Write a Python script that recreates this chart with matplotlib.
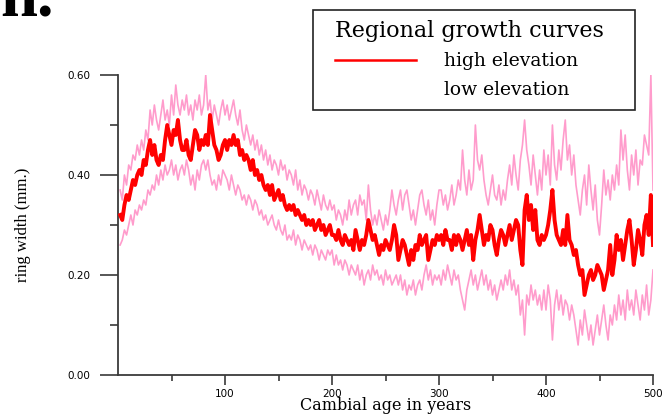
import numpy as np
import matplotlib
matplotlib.use("Agg")
import matplotlib.pyplot as plt
from matplotlib.lines import Line2D
from matplotlib.patches import Rectangle
from matplotlib.ticker import FixedLocator

# Cambial age (years), sampled every second year
age = np.arange(2, 501, 2)

# Regional growth curve, high elevation sites (ring width, mm)
high_elev = [
    0.32, 0.31, 0.34, 0.36, 0.35, 0.37, 0.39, 0.38, 0.40, 0.41,
    0.40, 0.43, 0.42, 0.45, 0.47, 0.44, 0.46, 0.43, 0.42, 0.44,
    0.43, 0.47, 0.50, 0.48, 0.46, 0.49, 0.48, 0.51, 0.47, 0.45,
    0.45, 0.47, 0.44, 0.43, 0.46, 0.49, 0.48, 0.45, 0.47, 0.46,
    0.48, 0.46, 0.52, 0.49, 0.46, 0.45, 0.43, 0.44, 0.46, 0.47,
    0.45, 0.47, 0.46, 0.48, 0.46, 0.47, 0.44, 0.45, 0.43, 0.44,
    0.43, 0.41, 0.43, 0.40, 0.41, 0.39, 0.40, 0.38, 0.37, 0.38,
    0.36, 0.38, 0.35, 0.36, 0.37, 0.35, 0.36, 0.34, 0.33, 0.34,
    0.33, 0.34, 0.32, 0.33, 0.32, 0.31, 0.32, 0.30, 0.31, 0.30,
    0.31, 0.29, 0.30, 0.31, 0.29, 0.30, 0.28, 0.29, 0.30, 0.28,
    0.28, 0.27, 0.29, 0.27, 0.26, 0.28, 0.27, 0.26, 0.27, 0.25,
    0.29, 0.27, 0.25, 0.27, 0.26, 0.28, 0.31, 0.29, 0.27, 0.28,
    0.26, 0.24, 0.26, 0.25, 0.27, 0.26, 0.25, 0.27, 0.30, 0.28,
    0.23, 0.25, 0.27, 0.26, 0.24, 0.22, 0.25, 0.23, 0.26, 0.25,
    0.28, 0.26, 0.27, 0.28, 0.23, 0.25, 0.27, 0.26, 0.28, 0.27,
    0.28, 0.26, 0.29, 0.27, 0.27, 0.25, 0.28, 0.26, 0.28, 0.27,
    0.25, 0.27, 0.29, 0.26, 0.28, 0.23, 0.27, 0.29, 0.32, 0.29,
    0.26, 0.28, 0.27, 0.30, 0.29, 0.26, 0.24, 0.27, 0.29, 0.28,
    0.26, 0.28, 0.30, 0.27, 0.29, 0.31, 0.30, 0.25, 0.22, 0.33,
    0.36, 0.31, 0.34, 0.29, 0.33, 0.27, 0.26, 0.28, 0.27, 0.28,
    0.30, 0.33, 0.37, 0.31, 0.28, 0.27, 0.26, 0.29, 0.26, 0.32,
    0.27, 0.26, 0.24, 0.25, 0.22, 0.20, 0.21, 0.16, 0.18, 0.20,
    0.21, 0.19, 0.20, 0.22, 0.21, 0.20, 0.17, 0.19, 0.21, 0.26,
    0.20, 0.23, 0.28, 0.25, 0.27, 0.23, 0.26, 0.29, 0.31, 0.27,
    0.22, 0.25, 0.29, 0.27, 0.24, 0.30, 0.32, 0.28, 0.36, 0.26,
]

# Low elevation sites: upper and lower curves (ring width, mm)
low_elev_upper = [
    0.37, 0.35, 0.40, 0.38, 0.42, 0.41, 0.44, 0.43, 0.46, 0.44,
    0.47, 0.45, 0.49, 0.47, 0.53, 0.50, 0.54, 0.51, 0.49, 0.52,
    0.55, 0.51, 0.53, 0.50, 0.56, 0.52, 0.58, 0.54, 0.52, 0.55,
    0.53, 0.56, 0.52, 0.54, 0.51, 0.55, 0.53, 0.56, 0.52, 0.54,
    0.60, 0.53, 0.55, 0.51, 0.54, 0.52, 0.50, 0.53, 0.55, 0.52,
    0.54, 0.51, 0.53, 0.55, 0.52, 0.50, 0.53, 0.49, 0.47, 0.50,
    0.48, 0.46, 0.48, 0.45, 0.47, 0.44, 0.46, 0.43, 0.45, 0.42,
    0.44, 0.41, 0.43, 0.42, 0.40, 0.43, 0.41, 0.42, 0.39, 0.41,
    0.40, 0.38, 0.41, 0.37, 0.39, 0.36, 0.38, 0.37, 0.35, 0.37,
    0.36, 0.34, 0.37, 0.35, 0.33, 0.36, 0.34, 0.33, 0.35, 0.33,
    0.34, 0.31, 0.33, 0.32, 0.30, 0.33, 0.31, 0.35, 0.32, 0.34,
    0.35, 0.32, 0.36, 0.34, 0.35, 0.31, 0.38, 0.33, 0.30, 0.32,
    0.30, 0.33, 0.31, 0.29, 0.32, 0.30, 0.33, 0.37, 0.34, 0.32,
    0.35, 0.37, 0.33, 0.36, 0.37, 0.34, 0.31, 0.33, 0.30, 0.33,
    0.36, 0.37, 0.34, 0.32, 0.35, 0.31, 0.33, 0.30, 0.34, 0.37,
    0.37, 0.34, 0.36, 0.33, 0.35, 0.38, 0.34, 0.36, 0.39, 0.37,
    0.45, 0.39, 0.36, 0.41, 0.37, 0.39, 0.50, 0.43, 0.41, 0.44,
    0.39, 0.36, 0.34, 0.37, 0.40, 0.36, 0.35, 0.38, 0.34, 0.37,
    0.35, 0.39, 0.42, 0.38, 0.44, 0.40, 0.37, 0.43, 0.46, 0.51,
    0.45, 0.42, 0.38, 0.44, 0.40, 0.36, 0.41, 0.37, 0.45, 0.40,
    0.44, 0.38, 0.50, 0.42, 0.39, 0.45, 0.41, 0.47, 0.51, 0.43,
    0.46, 0.40, 0.44, 0.38, 0.35, 0.32, 0.37, 0.40, 0.34, 0.42,
    0.37, 0.33, 0.38, 0.31, 0.28, 0.34, 0.41, 0.36, 0.39, 0.35,
    0.40, 0.37, 0.42, 0.38, 0.49, 0.43, 0.48, 0.41, 0.37, 0.44,
    0.40, 0.45, 0.38, 0.43, 0.42, 0.48, 0.46, 0.44, 0.60, 0.37,
]

low_elev_lower = [
    0.26, 0.27, 0.29, 0.28, 0.30, 0.32, 0.30, 0.33, 0.32, 0.34,
    0.33, 0.35, 0.34, 0.37, 0.36, 0.38, 0.37, 0.40, 0.38, 0.41,
    0.39, 0.42, 0.40, 0.41, 0.43, 0.40, 0.42, 0.39, 0.41, 0.42,
    0.40, 0.43, 0.41, 0.38, 0.40, 0.37, 0.41, 0.39, 0.42, 0.43,
    0.41, 0.43, 0.40, 0.38, 0.39, 0.37, 0.40, 0.38, 0.41, 0.40,
    0.39, 0.37, 0.40, 0.38, 0.36, 0.38, 0.37, 0.35, 0.36, 0.34,
    0.36, 0.35, 0.33, 0.35, 0.34, 0.32, 0.33, 0.31, 0.32, 0.30,
    0.31, 0.32, 0.30, 0.29, 0.31, 0.29, 0.28, 0.30, 0.27, 0.28,
    0.27, 0.29, 0.26, 0.28, 0.27, 0.25, 0.27, 0.26, 0.25, 0.26,
    0.24, 0.26, 0.25, 0.23, 0.25, 0.24, 0.23, 0.25, 0.24, 0.25,
    0.22, 0.24, 0.22, 0.23, 0.21, 0.23, 0.22, 0.20, 0.22, 0.21,
    0.20, 0.22, 0.19, 0.21, 0.18, 0.20, 0.21, 0.19, 0.22, 0.20,
    0.21, 0.19, 0.20, 0.18, 0.21, 0.19, 0.20, 0.18, 0.19, 0.20,
    0.18, 0.20, 0.17, 0.19, 0.16, 0.18, 0.17, 0.19, 0.16, 0.18,
    0.19, 0.17, 0.20, 0.22, 0.19, 0.21, 0.18, 0.20, 0.19, 0.20,
    0.18, 0.21, 0.19, 0.22, 0.20, 0.18, 0.21, 0.19, 0.20, 0.17,
    0.15, 0.13, 0.17, 0.19, 0.21, 0.18, 0.20, 0.17, 0.19, 0.21,
    0.18, 0.20, 0.17, 0.19, 0.16, 0.18, 0.15, 0.17, 0.19, 0.17,
    0.20, 0.18, 0.21, 0.17, 0.19, 0.16, 0.18, 0.12, 0.15, 0.08,
    0.16, 0.14, 0.18, 0.15, 0.17, 0.14, 0.16, 0.13, 0.17, 0.13,
    0.18, 0.15, 0.07, 0.14, 0.17, 0.13, 0.16, 0.12, 0.15, 0.14,
    0.11, 0.14, 0.12, 0.09, 0.06, 0.11, 0.08, 0.13, 0.10, 0.07,
    0.10, 0.06, 0.09, 0.12, 0.08, 0.11, 0.14, 0.10, 0.07, 0.12,
    0.10, 0.14, 0.11, 0.16, 0.12, 0.15, 0.11, 0.17, 0.13, 0.15,
    0.12, 0.17, 0.14, 0.11, 0.16, 0.13, 0.18, 0.12, 0.15, 0.21,
]

x_ticks = [100, 200, 300, 400, 500]
y_ticks = [0.0, 0.2, 0.4, 0.6]

RED = "#ff0000"
PINK = "#ff9ccc"
AXIS_GRAY = "#3a3a3a"

W, H = 666, 416
fig = plt.figure(figsize=(W / 100, H / 100), dpi=100)
ax = fig.add_axes([118 / W, 1 - 375 / H, (653 - 118) / W, 300 / H])

ax.plot(age, low_elev_upper, color=PINK, lw=1.2, zorder=2)
ax.plot(age, low_elev_lower, color=PINK, lw=1.2, zorder=2)
ax.plot(age, high_elev, color=RED, lw=2.8, zorder=3)

ax.set_xlim(0, 500)
ax.set_ylim(0, 0.6)

for side in ("top", "right"):
    ax.spines[side].set_visible(False)
for side in ("left", "bottom"):
    ax.spines[side].set_color(AXIS_GRAY)
    ax.spines[side].set_linewidth(1.3)

ax.xaxis.set_major_locator(FixedLocator(x_ticks))
ax.xaxis.set_minor_locator(FixedLocator([50, 150, 250, 350, 450]))
ax.yaxis.set_major_locator(FixedLocator(y_ticks))
ax.yaxis.set_minor_locator(FixedLocator([0.1, 0.3, 0.5]))
ax.set_yticklabels([f"{v:.2f}" for v in y_ticks])

for lab in ax.get_xticklabels() + ax.get_yticklabels():
    lab.set_fontfamily("DejaVu Sans")
    lab.set_fontsize(7.5)

ax.tick_params(axis="y", which="major", length=13, width=1.2, color=AXIS_GRAY, pad=7)
ax.tick_params(axis="y", which="minor", length=6, width=1.2, color=AXIS_GRAY)
ax.tick_params(axis="x", which="major", length=7, width=1.2, color=AXIS_GRAY, pad=3)
ax.tick_params(axis="x", which="minor", length=4, width=1.2, color=AXIS_GRAY)

ax.set_xlabel("Cambial age in years", family="DejaVu Serif", size=11.5, labelpad=-1)
ax.set_ylabel("ring width (mm.)", family="Liberation Serif", size=12, labelpad=26)

# Legend block with its own frame
handles = [Line2D([], [], color=RED, lw=1.8), Line2D([], [], color="none")]
leg = fig.legend(
    handles, ["high elevation", "low elevation"],
    title="Regional growth curves",
    loc="upper left", bbox_to_anchor=(335 / W, 1 - 20 / H),
    frameon=False, alignment="left",
    prop=dict(family="DejaVu Serif", size=13.5),
    title_fontproperties=dict(family="DejaVu Serif", size=16),
    handlelength=4.3, handletextpad=1.5, labelspacing=0.55,
    borderpad=0, borderaxespad=0,
)
fig.add_artist(Rectangle((313 / W, 1 - 110 / H), (635 - 313) / W, 100 / H,
                         transform=fig.transFigure, fill=False,
                         edgecolor="#222222", lw=1.2))

# Panel letter at the upper-left corner
fig.text(0, 1 - 15 / H, "n.", family="Liberation Serif", weight="bold",
         size=48, ha="left", va="baseline")

fig.savefig("out.png", dpi=100)
